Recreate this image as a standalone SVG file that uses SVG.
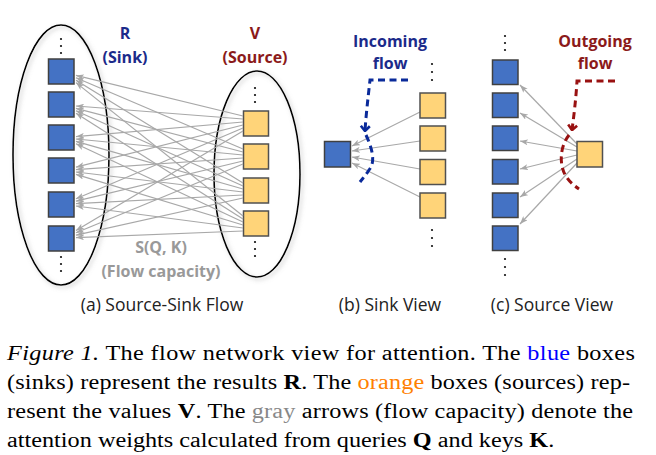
<svg xmlns="http://www.w3.org/2000/svg" width="656" height="455" viewBox="0 0 656 455">
<style>
.sink{fill:#4472c4;stroke:#404040;stroke-width:1.5}
.src{fill:#ffd479;stroke:#505050;stroke-width:1.5}
.dot{fill:#111}
.ell{fill:none;stroke:#000;stroke-width:1.6}
.cap{font-family:"Liberation Serif",serif;font-size:20px;fill:#000}
.lbl{font-family:"Open Sans",sans-serif;font-weight:bold;font-size:16px;text-anchor:middle}
.sub{font-family:"Open Sans",sans-serif;font-size:17.5px;text-anchor:middle;fill:#222}
.fl line{stroke:#a8a8a8;stroke-width:1.2;marker-end:url(#ah)}
.cut{fill:none;stroke-width:3;stroke-dasharray:7,4.5}
</style>
<defs>
<marker id="ah" markerUnits="userSpaceOnUse" viewBox="0 0 8 6" refX="8" refY="3" markerWidth="8" markerHeight="6" orient="auto">
<path d="M0,0 L8,3 L0,6 L2,3 z" fill="#a8a8a8"/>
</marker>
<marker id="chb" markerUnits="userSpaceOnUse" viewBox="-7 -6 8 12" refX="0" refY="0" markerWidth="8" markerHeight="12" orient="auto">
<path d="M-5,-4.5 L0,0 L-5,4.5" fill="none" stroke="#0a2a9a" stroke-width="2.6"/>
</marker>
<marker id="chr" markerUnits="userSpaceOnUse" viewBox="-7 -6 8 12" refX="0" refY="0" markerWidth="8" markerHeight="12" orient="auto">
<path d="M-5,-4.5 L0,0 L-5,4.5" fill="none" stroke="#991111" stroke-width="2.6"/>
</marker>
<filter id="sh" x="-20%" y="-20%" width="140%" height="140%">
<feDropShadow dx="2" dy="2" stdDeviation="2" flood-color="#888" flood-opacity="0.5"/>
</filter>
</defs>
<rect width="656" height="455" fill="#fff"/>

<!-- Panel a -->
<g id="sink-set">
<ellipse class="ell" cx="61" cy="155" rx="48" ry="130" filter="url(#sh)"/>
<circle class="dot" cx="61" cy="39" r="1.1"/><circle class="dot" cx="61" cy="46" r="1.1"/><circle class="dot" cx="61" cy="53" r="1.1"/>
<circle class="dot" cx="61" cy="257" r="1.1"/><circle class="dot" cx="61" cy="264" r="1.1"/><circle class="dot" cx="61" cy="271" r="1.1"/>
</g>
<g id="source-set">
<ellipse class="ell" cx="257" cy="174" rx="43" ry="103" filter="url(#sh)"/>
<circle class="dot" cx="255" cy="88" r="1.1"/><circle class="dot" cx="255" cy="95" r="1.1"/><circle class="dot" cx="255" cy="102" r="1.1"/>
<circle class="dot" cx="255" cy="242" r="1.1"/><circle class="dot" cx="255" cy="249" r="1.1"/><circle class="dot" cx="255" cy="256" r="1.1"/>
</g>
<g id="a-sink1"><rect class="sink" x="48.5" y="59" width="25.5" height="25"/></g>
<g id="a-sink2"><rect class="sink" x="48.5" y="92" width="25.5" height="25"/></g>
<g id="a-sink3"><rect class="sink" x="48.5" y="125" width="25.5" height="25"/></g>
<g id="a-sink4"><rect class="sink" x="48.5" y="158" width="25.5" height="25"/></g>
<g id="a-sink5"><rect class="sink" x="48.5" y="192" width="25.5" height="25"/></g>
<g id="a-sink6"><rect class="sink" x="48.5" y="226" width="25.5" height="25"/></g>
<g id="a-src1"><rect class="src" x="243.5" y="111" width="25" height="25"/></g>
<g id="a-src2"><rect class="src" x="243.5" y="144" width="25" height="25"/></g>
<g id="a-src3"><rect class="src" x="243.5" y="178" width="25" height="25"/></g>
<g id="a-src4"><rect class="src" x="243.5" y="211" width="25" height="25"/></g>

<g id="connectors">
<g class="fl">
<line x1="243" y1="116" x2="76" y2="75.4"/>
<line x1="243" y1="119" x2="76" y2="106"/>
<line x1="243" y1="122" x2="76" y2="136.6"/>
<line x1="243" y1="125" x2="76" y2="167.2"/>
<line x1="243" y1="128" x2="76" y2="198.8"/>
<line x1="243" y1="131" x2="76" y2="230.4"/>
<line x1="243" y1="149" x2="76" y2="77.8"/>
<line x1="243" y1="152" x2="76" y2="108.4"/>
<line x1="243" y1="155" x2="76" y2="139"/>
<line x1="243" y1="158" x2="76" y2="169.6"/>
<line x1="243" y1="161" x2="76" y2="201.2"/>
<line x1="243" y1="164" x2="76" y2="232.8"/>
<line x1="243" y1="183" x2="76" y2="80.2"/>
<line x1="243" y1="186" x2="76" y2="110.8"/>
<line x1="243" y1="189" x2="76" y2="141.4"/>
<line x1="243" y1="192" x2="76" y2="172"/>
<line x1="243" y1="195" x2="76" y2="203.6"/>
<line x1="243" y1="198" x2="76" y2="235.2"/>
<line x1="243" y1="216" x2="76" y2="82.6"/>
<line x1="243" y1="219" x2="76" y2="113.2"/>
<line x1="243" y1="222" x2="76" y2="143.8"/>
<line x1="243" y1="225" x2="76" y2="174.4"/>
<line x1="243" y1="228" x2="76" y2="206"/>
<line x1="243" y1="231" x2="76" y2="237.6"/>
<!-- panel b -->
<line x1="420" y1="112" x2="352" y2="146"/>
<line x1="420" y1="141" x2="352" y2="151"/>
<line x1="420" y1="169" x2="352" y2="157"/>
<line x1="420" y1="197" x2="352" y2="163"/>
<!-- panel c -->
<line x1="577" y1="144" x2="520" y2="85"/>
<line x1="577" y1="147" x2="520" y2="113"/>
<line x1="577" y1="151" x2="520" y2="141"/>
<line x1="577" y1="155" x2="520" y2="169"/>
<line x1="577" y1="159" x2="520" y2="197"/>
<line x1="577" y1="163" x2="520" y2="224"/>
</g>
<path class="cut" stroke="#0a2a9a" d="M408,80 L370,80 C368,98 366,115 365,131" marker-end="url(#chb)"/>
<path class="cut" stroke="#0a2a9a" d="M366,135 C372,148 376,162 369,170 C366,175 363,178 360,182"/>
<path class="cut" stroke="#991111" d="M615,81 L577,81 C576,98 574,115 572,130" marker-end="url(#chr)"/>
<path class="cut" stroke="#991111" d="M569,135 C562,144 560,156 562,166 C564,176 570,183 579,189"/>
</g>

<text class="lbl" fill="#1b2a8a" x="125" y="39">R</text>
<text class="lbl" fill="#1b2a8a" x="125" y="63">(Sink)</text>
<text class="lbl" fill="#8b1a1a" x="255" y="39">V</text>
<text class="lbl" fill="#8b1a1a" x="255" y="63">(Source)</text>
<text class="lbl" fill="#999" x="161" y="253">S(Q, K)</text>
<text class="lbl" fill="#999" x="161" y="277">(Flow capacity)</text>
<text class="sub" x="162" y="311">(a) Source-Sink Flow</text>

<!-- Panel b -->
<g id="b-sink"><rect class="sink" x="324.5" y="141.5" width="26" height="25.5"/></g>
<g id="b-src1"><rect class="src" x="420" y="93" width="25.5" height="25"/></g>
<g id="b-src2"><rect class="src" x="420" y="126" width="25.5" height="25"/></g>
<g id="b-src3"><rect class="src" x="420" y="159.5" width="25.5" height="25"/></g>
<g id="b-src4"><rect class="src" x="420" y="193" width="25.5" height="25"/></g>
<circle class="dot" cx="432" cy="64" r="1.1"/><circle class="dot" cx="432" cy="72" r="1.1"/><circle class="dot" cx="432" cy="80" r="1.1"/>
<circle class="dot" cx="432" cy="230" r="1.1"/><circle class="dot" cx="432" cy="238" r="1.1"/><circle class="dot" cx="432" cy="246" r="1.1"/>
<text class="lbl" fill="#1b2a8a" x="390" y="47">Incoming</text>
<text class="lbl" fill="#1b2a8a" x="390" y="69">flow</text>
<text class="sub" x="390" y="311">(b) Sink View</text>

<!-- Panel c -->
<g id="c-sink1"><rect class="sink" x="492.5" y="60" width="25.5" height="24.5"/></g>
<g id="c-sink2"><rect class="sink" x="492.5" y="93" width="25.5" height="24.5"/></g>
<g id="c-sink3"><rect class="sink" x="492.5" y="126" width="25.5" height="24.5"/></g>
<g id="c-sink4"><rect class="sink" x="492.5" y="159.5" width="25.5" height="24.5"/></g>
<g id="c-sink5"><rect class="sink" x="492.5" y="193" width="25.5" height="24.5"/></g>
<g id="c-sink6"><rect class="sink" x="492.5" y="226" width="25.5" height="24.5"/></g>
<g id="c-src"><rect class="src" x="577" y="141.5" width="25.5" height="25.5"/></g>
<circle class="dot" cx="505" cy="36" r="1.1"/><circle class="dot" cx="505" cy="43" r="1.1"/><circle class="dot" cx="505" cy="50" r="1.1"/>
<circle class="dot" cx="505" cy="259" r="1.1"/><circle class="dot" cx="505" cy="267" r="1.1"/><circle class="dot" cx="505" cy="275" r="1.1"/>
<text class="lbl" fill="#8b1a1a" x="595" y="47">Outgoing</text>
<text class="lbl" fill="#8b1a1a" x="595" y="69">flow</text>
<text class="sub" x="552" y="311">(c) Source View</text>

<!-- Caption (horizontally stretched like the reference) -->
<g id="caption" transform="scale(1.212,1)">
<text class="cap" x="5.8" y="360" textLength="518" lengthAdjust="spacing"><tspan font-style="italic">Figure 1.</tspan> The flow network view for attention.  The <tspan fill="#0000ff">blue</tspan> boxes</text>
<text class="cap" x="5.8" y="389" textLength="514" lengthAdjust="spacing">(sinks) represent the results <tspan font-weight="bold">R</tspan>. The <tspan fill="#ff8000">orange</tspan> boxes (sources) rep-</text>
<text class="cap" x="5.8" y="418" textLength="516.5" lengthAdjust="spacing">resent the values <tspan font-weight="bold">V</tspan>. The <tspan fill="#888">gray</tspan> arrows (flow capacity) denote the</text>
<text class="cap" x="5.8" y="447">attention weights calculated from queries <tspan font-weight="bold">Q</tspan> and keys <tspan font-weight="bold">K</tspan>.</text>
</g>
</svg>
